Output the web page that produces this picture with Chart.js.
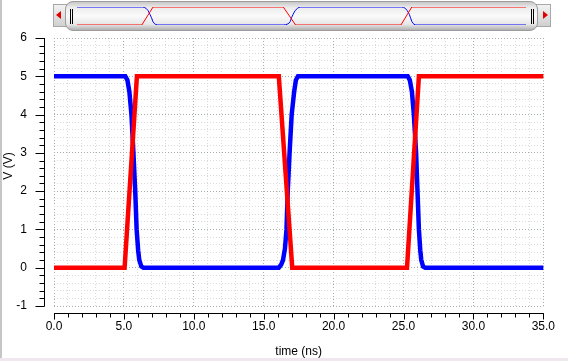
<!DOCTYPE html>
<html>
<head>
<meta charset="utf-8">
<script src="https://cdn.jsdelivr.net/npm/chart.js@4.4.1/dist/chart.umd.min.js"></script>
<style>
html, body { margin: 0; padding: 0; background: #fff; }
#wrap { position: relative; width: 568px; height: 361px; overflow: hidden; }
#main { position: absolute; left: 0; top: 0; }
.edgeL { position: absolute; left: 0; top: 0; width: 2px; height: 361px; background: #c6c6c6; }
.edgeB { position: absolute; left: 0; top: 358px; width: 568px; height: 3px; background: #eee8ee; }
.btn { position: absolute; top: 4px; height: 21px; border: 1px solid #a8a8a8; background: linear-gradient(#f2f2f2, #d0d0d0); }
.btn:after { content: ''; position: absolute; top: 6px; border-top: 4px solid transparent; border-bottom: 4px solid transparent; }
#bl { left: 53px; width: 14px; }
#bl:after { left: 2px; border-right: 5px solid #e00000; }
#br { left: 536px; width: 13px; }
#br:after { left: 6px; border-left: 5px solid #e00000; }
#thumb { position: absolute; left: 65px; top: 1px; width: 471px; height: 28px; border: 1px solid #9c9c9c; border-radius: 8px;
  background: linear-gradient(#c8c8c8 0%, #ececec 20%, #fafafa 50%, #e6e6e6 80%, #b0b0b0 100%); }
.grip { position: absolute; top: 7px; width: 1px; height: 15px; background: #000; }
#mini { position: absolute; left: 77px; top: 4px; }
</style>
</head>
<body>
<div id="wrap">
  <canvas id="main" width="568" height="361"></canvas>
  <div class="edgeL"></div>
  <div class="edgeB"></div>
  <div class="btn" id="bl"></div>
  <div class="btn" id="br"></div>
  <div id="thumb">
    <div class="grip" style="left:4px"></div>
    <div class="grip" style="left:6px"></div>
    <div class="grip" style="left:465px"></div>
    <div class="grip" style="left:467px"></div>
  </div>
  <canvas id="mini" width="449" height="24"></canvas>
</div>
<script>
// inverter output (blue) and input (red), time in ns, voltage in V
var blueTime = [0, 5.1, 5.25, 5.39, 5.54, 5.68, 5.81, 5.91, 6.02, 6.1, 6.25, 6.4,
  16.08, 16.25, 16.38, 16.52, 16.63, 16.72, 16.85, 17.0, 17.18, 17.3, 17.45,
  25.3, 25.45, 25.6, 25.74, 25.9, 26.0, 26.1, 26.2, 26.27, 26.4, 26.55, 35];
var blueVolt = [5, 5, 4.9, 4.6, 4.0, 3.0, 2.0, 1.0, 0.45, 0.2, 0.03, 0,
  0, 0.08, 0.2, 0.5, 1.0, 2.0, 3.0, 4.0, 4.6, 4.9, 5,
  5, 4.9, 4.6, 4.0, 3.0, 2.0, 1.0, 0.45, 0.2, 0.03, 0, 0];
var redTime = [0, 5.05, 5.93, 16.08, 17.04, 25.25, 26.1, 35];
var redVolt = [0, 0, 5, 5, 0, 0, 5, 5];

var xTitle = 'time (ns)';
var yTitle = 'V (V)';

var blueColor = '#0000ff';
var redColor = '#ff0000';
var majorGrid = '#a4b0a4';
var minorGrid = '#dadada';

function toPoints(t, v) {
  var pts = [];
  for (var i = 0; i < t.length; i++) pts.push({x: t[i], y: v[i]});
  return pts;
}
function isWhole(v) { return Math.abs(v - Math.round(v)) < 1e-6; }

Chart.defaults.font.family = '"Liberation Sans", Arial, sans-serif';
Chart.defaults.font.size = 12;
Chart.defaults.color = '#000';

// axes in this viewer sit a few pixels away from the plot area
var offsetAxes = {
  id: 'offsetAxes',
  afterDraw(chart) {
    var ctx = chart.ctx, area = chart.chartArea;
    var xs = chart.scales.x, ys = chart.scales.y;
    ctx.save();
    ctx.strokeStyle = '#000';
    ctx.lineWidth = 1;
    ctx.beginPath();
    var ax = area.left - 10 + 0.5;
    ctx.moveTo(ax, ys.getPixelForValue(ys.max));
    ctx.lineTo(ax, ys.getPixelForValue(ys.min) + 0.5);
    ys.ticks.forEach(function (t) {
      var y = Math.round(ys.getPixelForValue(t.value)) + 0.5;
      var len = isWhole(t.value) ? 9 : 5;
      ctx.moveTo(ax - len, y);
      ctx.lineTo(ax, y);
    });
    var ay = area.bottom + 7 + 0.5;
    ctx.moveTo(xs.getPixelForValue(xs.min), ay);
    ctx.lineTo(xs.getPixelForValue(xs.max) + 0.5, ay);
    xs.ticks.forEach(function (t) {
      var x = Math.round(xs.getPixelForValue(t.value)) + 0.5;
      var len = t.value % 5 === 0 ? 6 : 4;
      ctx.moveTo(x, ay);
      ctx.lineTo(x, ay + len);
    });
    ctx.stroke();
    ctx.fillStyle = '#000';
    ctx.font = Chart.defaults.font.size + 'px ' + Chart.defaults.font.family;
    ctx.translate(9, 166);
    ctx.rotate(-Math.PI / 2);
    ctx.textAlign = 'center';
    ctx.textBaseline = 'middle';
    ctx.fillText(yTitle, 0, 0);
    ctx.restore();
  }
};

var mainChart = new Chart(document.getElementById('main'), {
  type: 'line',
  data: {
    datasets: [{
      data: toPoints(redTime, redVolt),
      borderColor: redColor,
      borderWidth: 4.5,
      borderCapStyle: 'square',
      pointRadius: 0,
      order: 0
    }, {
      data: toPoints(blueTime, blueVolt),
      borderColor: blueColor,
      borderWidth: 4.5,
      borderCapStyle: 'square',
      pointRadius: 0,
      order: 1
    }]
  },
  options: {
    responsive: false,
    animation: false,
    layout: { padding: { left: 0, right: 21, top: 38, bottom: 0 } },
    plugins: { legend: { display: false }, tooltip: { enabled: false } },
    scales: {
      x: {
        type: 'linear',
        min: 0,
        max: 35,
        afterFit(s) { s.height = 55; },
        ticks: {
          stepSize: 1,
          autoSkip: false,
          maxRotation: 0,
          padding: 13,
          callback: function (v) { return v % 5 === 0 ? v.toFixed(1) : ''; }
        },
        grid: {
          drawTicks: false,
          color: function (c) { return c.tick && c.tick.value % 5 === 0 ? majorGrid : minorGrid; }
        },
        border: { display: false, dash: [1, 2] },
        title: { display: true, text: xTitle, padding: { top: 0, bottom: 2 } }
      },
      y: {
        type: 'linear',
        min: -1,
        max: 6,
        afterFit(s) { s.width = 54; },
        ticks: {
          stepSize: 0.2,
          autoSkip: false,
          padding: 27,
          callback: function (v) { return isWhole(v) ? String(Math.round(v)) : ''; }
        },
        grid: {
          drawTicks: false,
          color: function (c) { return c.tick && isWhole(c.tick.value) ? majorGrid : minorGrid; }
        },
        border: { display: false, dash: [1, 2] }
      }
    }
  },
  plugins: [offsetAxes]
});

// overview strip in the scroll bar
var miniChart = new Chart(document.getElementById('mini'), {
  type: 'line',
  data: {
    datasets: [{
      data: toPoints(redTime, redVolt),
      borderColor: redColor,
      borderWidth: 1,
      pointRadius: 0
    }, {
      data: toPoints(blueTime, blueVolt),
      borderColor: blueColor,
      borderWidth: 1,
      pointRadius: 0
    }]
  },
  options: {
    responsive: false,
    animation: false,
    layout: { padding: { left: 0, right: 0, top: 3, bottom: 3 } },
    plugins: { legend: { display: false }, tooltip: { enabled: false } },
    scales: {
      x: { type: 'linear', min: 0, max: 35, display: false },
      y: { min: 0, max: 5, display: false }
    }
  }
});
</script>
</body>
</html>
